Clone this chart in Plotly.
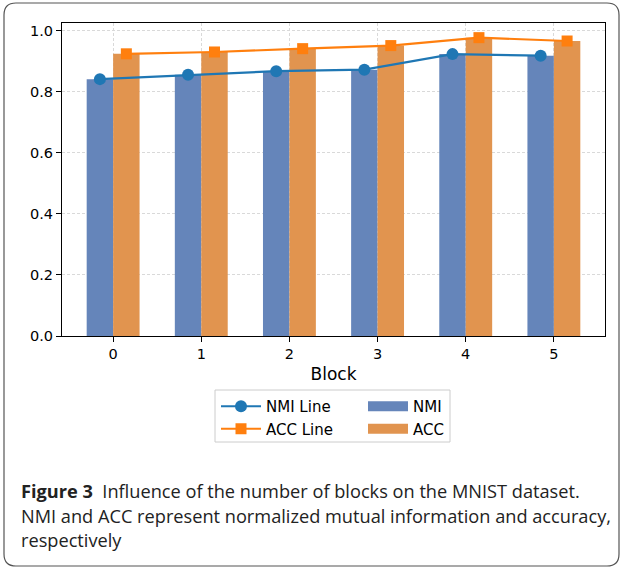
import plotly.graph_objects as go

blocks = [0, 1, 2, 3, 4, 5]
nmi = [0.842, 0.856, 0.868, 0.873, 0.924, 0.919]
acc = [0.925, 0.931, 0.942, 0.952, 0.978, 0.967]
tick_labels = ["0", "1", "2", "3", "4", "5"]
bar_offset = 0.15
bar_width = 0.3

W, H = 622, 570
L, R, T, B = 62, 605, 23, 336

def px(x):
    return (x - L) / (R - L)

def py(y):
    return (B - y) / (B - T)

x_nmi = [b - bar_offset for b in blocks]
x_acc = [b + bar_offset for b in blocks]

NMI_BAR, ACC_BAR = "#6585ba", "#e1944f"

fig = go.Figure()
fig.add_trace(go.Bar(x=x_nmi, y=nmi, width=bar_width, name="NMI", showlegend=False,
                     legendgroup="nmi", marker=dict(color=NMI_BAR, line=dict(width=0))))
fig.add_trace(go.Bar(x=x_acc, y=acc, width=bar_width, name="ACC", showlegend=False,
                     legendgroup="acc", marker=dict(color=ACC_BAR, line=dict(width=0))))
fig.add_trace(go.Scatter(x=x_nmi, y=nmi, mode="lines+markers", name="NMI Line",
                         line=dict(color="#1f77b4", width=2.2),
                         marker=dict(symbol="circle", size=12, color="#1f77b4"), legend="legend"))
fig.add_trace(go.Scatter(x=x_acc, y=acc, mode="lines+markers", name="ACC Line",
                         line=dict(color="#ff7f0e", width=2.2),
                         marker=dict(symbol="square", size=11, color="#ff7f0e"), legend="legend"))
# legend proxies for the bars (wide rectangle patches)
fig.add_trace(go.Scatter(x=[None], y=[None], mode="lines", name="NMI", legendgroup="nmi",
                         line=dict(color=NMI_BAR, width=10), legend="legend2"))
fig.add_trace(go.Scatter(x=[None], y=[None], mode="lines", name="ACC", legendgroup="acc",
                         line=dict(color=ACC_BAR, width=10), legend="legend2"))

axis_common = dict(showline=True, linecolor="black", linewidth=1, mirror=True,
                   ticks="outside", ticklen=5, tickcolor="black",
                   showgrid=True, gridcolor="#d9d9d9", griddash="3px,2px", gridwidth=1,
                   tickfont=dict(family="DejaVu Sans", size=14.5, color="black"), zeroline=False)

fig.update_xaxes(range=[-0.58, 5.58], tickvals=blocks, ticktext=tick_labels,
                 title=dict(text="Block", font=dict(family="DejaVu Sans", size=17, color="black"), standoff=6),
                 **axis_common)
fig.update_yaxes(range=[0, 1.026], tickvals=[0, 0.2, 0.4, 0.6, 0.8, 1.0],
                 ticktext=["0.0", "0.2", "0.4", "0.6", "0.8", "1.0"], **axis_common)

leg_font = dict(family="DejaVu Sans", size=15, color="black")
fig.update_layout(
    width=W, height=H,
    margin=dict(l=L, r=W - R, t=T, b=H - B, pad=0),
    plot_bgcolor="white", paper_bgcolor="white",
    barmode="overlay",
    showlegend=True,
    legend=dict(x=px(216), y=py(390), xanchor="left", yanchor="top", font=leg_font,
                bgcolor="rgba(0,0,0,0)", borderwidth=0, tracegroupgap=0, itemwidth=40),
    legend2=dict(x=px(363), y=py(390), xanchor="left", yanchor="top", font=leg_font,
                 bgcolor="rgba(0,0,0,0)", borderwidth=0, tracegroupgap=0, itemwidth=40,
                 traceorder="normal"),
)

# legend frame
fig.add_shape(type="rect", xref="paper", yref="paper",
              x0=px(215), x1=px(450), y0=py(390), y1=py(442),
              line=dict(color="#cccccc", width=1), fillcolor="rgba(0,0,0,0)", layer="below")

# rounded outer border
x0, x1, y0, y1, r = px(4), px(619), py(3), py(566), 12
rx = r / (R - L)
ry = r / (B - T)
path = (f"M {x0+rx},{y0} L {x1-rx},{y0} Q {x1},{y0} {x1},{y0-ry} "
        f"L {x1},{y1+ry} Q {x1},{y1} {x1-rx},{y1} "
        f"L {x0+rx},{y1} Q {x0},{y1} {x0},{y1+ry} "
        f"L {x0},{y0-ry} Q {x0},{y0} {x0+rx},{y0} Z")
fig.add_shape(type="path", path=path, xref="paper", yref="paper",
              line=dict(color="#555555", width=1.2))

cap_font = dict(family="Open Sans", size=18.2, color="#222222")
captions = [
    ("<b>Figure 3</b>  Influence of the number of blocks on the MNIST dataset.", 491),
    ("NMI and ACC represent normalized mutual information and accuracy,", 516),
    ("respectively", 540),
]
for text, yy in captions:
    fig.add_annotation(text=text, xref="paper", yref="paper", x=px(19), y=py(yy),
                       xanchor="left", yanchor="middle", showarrow=False, font=cap_font)

fig.write_html("out.html", config={"displayModeBar": False},
               post_script="document.body.style.margin='0';document.body.style.overflow='hidden';")
